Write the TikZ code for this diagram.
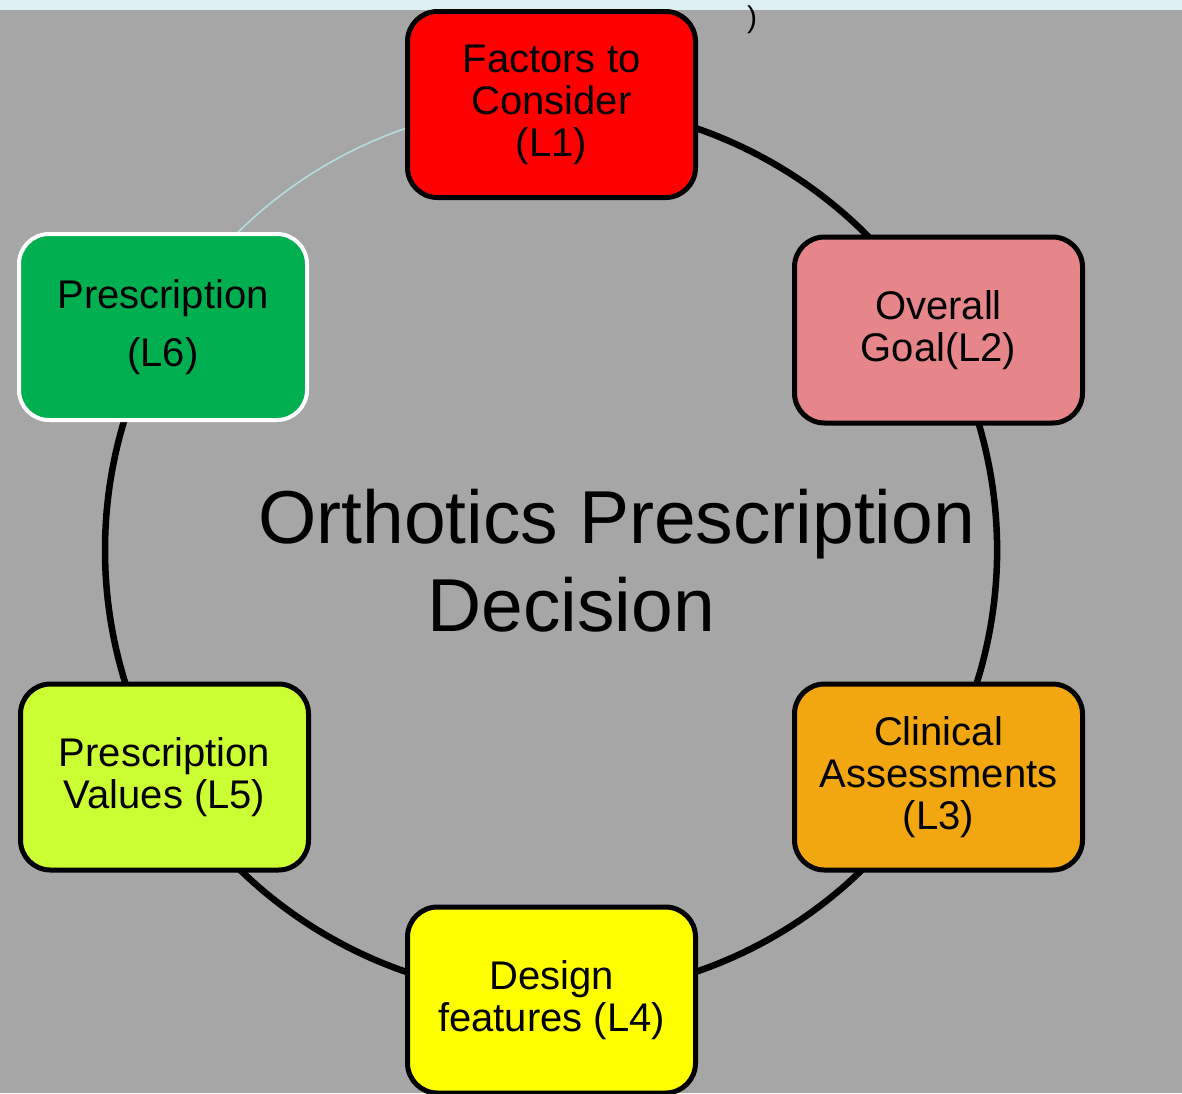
\documentclass[tikz,border=0pt]{standalone}
\usepackage{fontspec}
\setmainfont{Liberation Sans}
\definecolor{bggray}{HTML}{A6A6A6}
\definecolor{stripcyan}{HTML}{DDEFF1}
\definecolor{ringcyan}{HTML}{B4DCDC}
\definecolor{cRed}{HTML}{FF0000}
\definecolor{cPink}{HTML}{E6868B}
\definecolor{cOrange}{HTML}{F2A60F}
\definecolor{cYellow}{HTML}{FFFF00}
\definecolor{cLime}{HTML}{CCFF33}
\definecolor{cGreen}{HTML}{00B050}
\begin{document}
\begin{tikzpicture}[x=1pt,y=-1pt,
  box/.style={draw=black, line width=5pt, rounded corners=30pt,
    minimum width=288pt, minimum height=186pt, inner sep=0pt,
    align=center, font=\fontsize{40}{42}\selectfont},
  ring/.style={line width=6.5pt, draw=black},
  thinring/.style={line width=1.6pt, draw=ringcyan},
  titletext/.style={inner sep=0pt, anchor=base west, font=\fontsize{75}{88}\selectfont}]
\useasboundingbox (0,0) rectangle (1182,1093);
\clip (0,0) rectangle (1182,1093);
\fill[bggray] (0,0) rectangle (1182,1093);
\fill[stripcyan] (0,0) rectangle (1182,10);
% ring
\coordinate (c) at (551,550);
\draw[thinring] (c) ++(215:446) arc[start angle=215, end angle=255, radius=446];
\draw[ring] (c) ++(255:446) arc[start angle=255, end angle=565, radius=446];
% boxes
\node[box, fill=cRed] (L1) at (551.5,104.5) {Factors to\\Consider\\(L1)};
\node[box, fill=cPink] (L2) at (938.5,330) {Overall\\Goal(L2)};
\node[box, fill=cOrange] (L3) at (938.5,777) {Clinical\\Assessments\\(L3)};
\node[box, fill=cYellow] (L4) at (551.5,1000) {Design\\features (L4)};
\node[box, fill=cLime] (L5) at (164.5,777) {Prescription\\Values (L5)};
\node[box, fill=cGreen, draw=white, line width=4pt, font=\fontsize{40}{58}\selectfont] (L6) at (163,327) {Prescription\\(L6)};
% title
\node[titletext] (t1) at (258,543) {Orthotics Prescription};
\node[titletext] (t2) at (427,631) {Decision};
\node[inner sep=0pt, font=\fontsize{30}{30}\selectfont] (paren) at (752,20) {)};
\end{tikzpicture}
\end{document}
